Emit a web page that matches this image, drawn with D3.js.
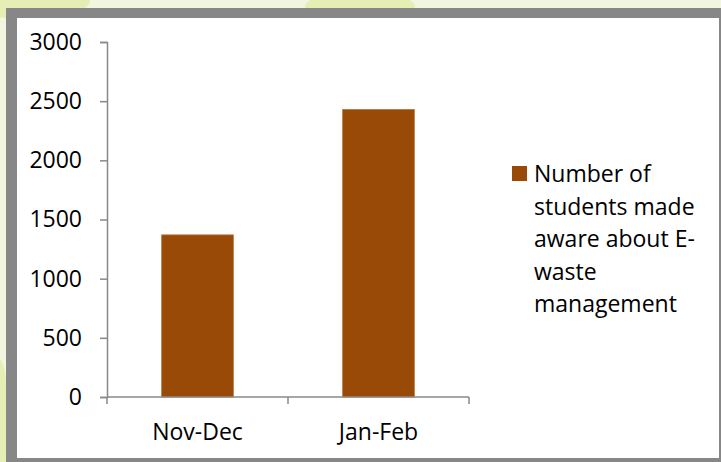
<!DOCTYPE html>
<html>
<head>
<meta charset="utf-8">
<script src="https://cdn.jsdelivr.net/npm/d3@7"></script>
<style>
  html, body { margin: 0; padding: 0; background: #f2f6de; }
  svg { display: block; }
  text { font-family: "Open Sans", sans-serif; fill: #000; }
</style>
</head>
<body>
<script>
const categories = ["Nov-Dec", "Jan-Feb"];
const values = [1370, 2430];
const yTicks = [0, 500, 1000, 1500, 2000, 2500, 3000];
const seriesName = "Number of students made aware about E-waste management";
const legendLines = ["Number of", "students made", "aware about E-", "waste", "management"];

const W = 721, H = 462;
const svg = d3.select("body").append("svg").attr("width", W).attr("height", H);

// background decoration
svg.append("rect").attr("width", W).attr("height", H).attr("fill", "#f2f6de");
const deco = svg.append("g").attr("fill", "#e3ecaa").attr("opacity", 0.8);
deco.append("ellipse").attr("cx", 30).attr("cy", 0).attr("rx", 60).attr("ry", 20);
deco.append("ellipse").attr("cx", 360).attr("cy", 6).attr("rx", 55).attr("ry", 14);
deco.append("ellipse").attr("cx", 0).attr("cy", 420).attr("rx", 8).attr("ry", 60);

// frame
svg.append("rect").attr("x", 6).attr("y", 8).attr("width", W).attr("height", H).attr("fill", "#878787");
svg.append("rect").attr("x", 17).attr("y", 18).attr("width", 702).attr("height", 440).attr("fill", "#fff");

const x0 = 107, x1 = 469, yTop = 42, yBot = 397;
const y = d3.scaleLinear().domain([0, 3000]).range([yBot, yTop]);
const x = d3.scaleBand().domain(categories).range([x0, x1]).paddingInner(0.604).paddingOuter(0.302);
const band = d3.scaleBand().domain(categories).range([x0, x1]).padding(0);

const axisColor = "#888";

// y axis
const gy = svg.append("g").attr("transform", `translate(${x0},0)`)
  .call(d3.axisLeft(y).tickValues(yTicks).tickSize(7).tickPadding(18).tickFormat(d3.format("d")));
gy.select(".domain").attr("stroke", axisColor).attr("stroke-width", 1.5);
gy.selectAll(".tick line").attr("stroke", axisColor).attr("stroke-width", 1.5);
gy.selectAll(".tick text").style("font-family", "'Open Sans', sans-serif").style("font-size", "23px").attr("fill", "#000");

// bars
svg.append("g").selectAll("rect").data(categories).join("rect")
  .attr("x", d => x(d))
  .attr("width", x.bandwidth())
  .attr("y", (d, i) => y(values[i]))
  .attr("height", (d, i) => yBot - y(values[i]))
  .attr("fill", "#994a06")
  .attr("stroke", "#b5743c")
  .attr("stroke-width", 0.8);

// x axis
const gx = svg.append("g").attr("transform", `translate(0,${yBot})`)
  .call(d3.axisBottom(x).tickSize(0).tickPadding(0));
gx.select(".domain").remove();
gx.append("line").attr("x1", x0).attr("x2", x1).attr("stroke", axisColor).attr("stroke-width", 1.5);
const boundaries = [x0].concat(categories.map(c => band(c) + band.bandwidth()));
gx.selectAll(".bt").data(boundaries).join("line").attr("class", "bt")
  .attr("x1", d => d).attr("x2", d => d).attr("y1", 0).attr("y2", 7)
  .attr("stroke", axisColor).attr("stroke-width", 1.5);
gx.selectAll(".tick text").attr("y", 43).attr("dy", 0)
  .style("font-family", "'Open Sans', sans-serif").style("font-size", "23px").attr("fill", "#000");

// legend
const lg = svg.append("g").attr("transform", "translate(512,166)");
lg.append("rect").attr("width", 15).attr("height", 15).attr("fill", "#994a06");
const lt = lg.append("text").attr("x", 22).attr("y", 16)
  .style("font-size", "23px").attr("aria-label", seriesName);
lt.selectAll("tspan").data(legendLines).join("tspan")
  .attr("x", 22).attr("dy", (d, i) => i === 0 ? 0 : 32.5).text(d => d);
</script>
</body>
</html>
